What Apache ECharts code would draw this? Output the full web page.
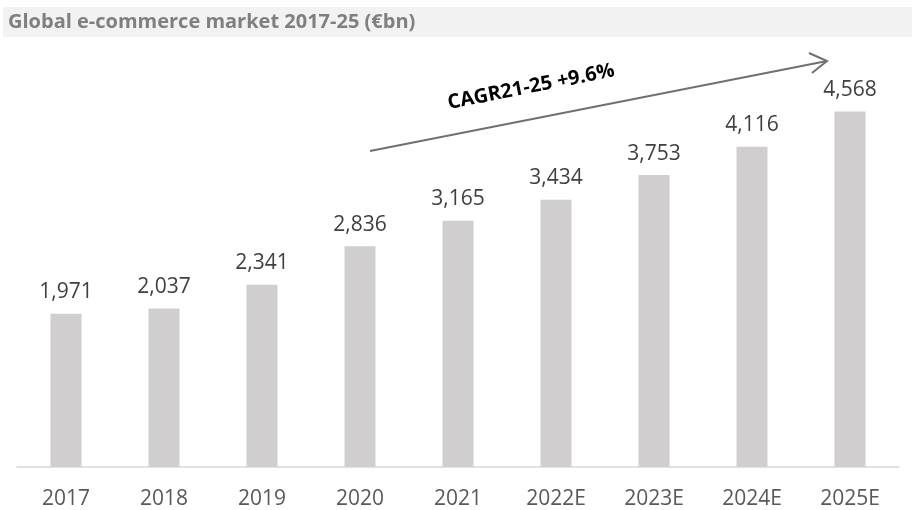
<!DOCTYPE html>
<html>
<head>
<meta charset="utf-8">
<script src="https://cdn.jsdelivr.net/npm/echarts@6/dist/echarts.min.js"></script>
<style>
html,body{margin:0;padding:0;background:#fff;}
#main{width:912px;height:510px;}
</style>
</head>
<body>
<div id="main"></div>
<script>
var categories = ['2017','2018','2019','2020','2021','2022E','2023E','2024E','2025E'];
var values = [1971, 2037, 2341, 2836, 3165, 3434, 3753, 4116, 4568];
var titleText = 'Global e-commerce market 2017-25 (€bn)';
var cagrText = 'CAGR21-25 +9.6%';

var chart = echarts.init(document.getElementById('main'));
var font = '"Open Sans", "Noto Sans", sans-serif';
chart.setOption({
  animation: false,
  backgroundColor: '#ffffff',
  grid: {left: 17, right: 13, top: 50, bottom: 39.5, containLabel: false},
  xAxis: {
    type: 'category',
    data: categories,
    axisLine: {lineStyle: {color: '#d9d9d9', width: 1.5}},
    axisTick: {show: false},
    axisLabel: {color: '#595959', fontSize: 21, fontFamily: font, margin: 22}
  },
  yAxis: {
    type: 'value', min: 0, max: 5360,
    show: false, splitLine: {show: false}
  },
  series: [{
    type: 'bar',
    data: values,
    barWidth: 31,
    itemStyle: {color: '#d0cece'},
    label: {
      show: true, position: 'top', distance: 11,
      color: '#404040', fontSize: 21, fontFamily: font,
      formatter: function(p){ return p.value.toLocaleString('en-US'); }
    }
  }],
  graphic: [
    {type: 'rect', left: 3, top: 7, shape: {width: 909, height: 30}, style: {fill: '#f2f2f2'}, z: -1},
    {type: 'text', x: 8, y: 22, style: {text: titleText, fill: '#7f7f7f', font: 'bold 20px ' + font, verticalAlign: 'middle'}},
    {type: 'line', shape: {x1: 370, y1: 151, x2: 827, y2: 61}, style: {stroke: '#707070', lineWidth: 2}},
    {type: 'polyline', shape: {points: [[809, 53], [827, 61], [812, 73]]}, style: {stroke: '#707070', lineWidth: 2, fill: null}},
    {type: 'text', x: 531, y: 87, rotation: 11.2 * Math.PI / 180,
     style: {text: cagrText, fill: '#000000', font: 'bold 20px ' + font, align: 'center', verticalAlign: 'middle'}}
  ]
});
</script>
</body>
</html>
